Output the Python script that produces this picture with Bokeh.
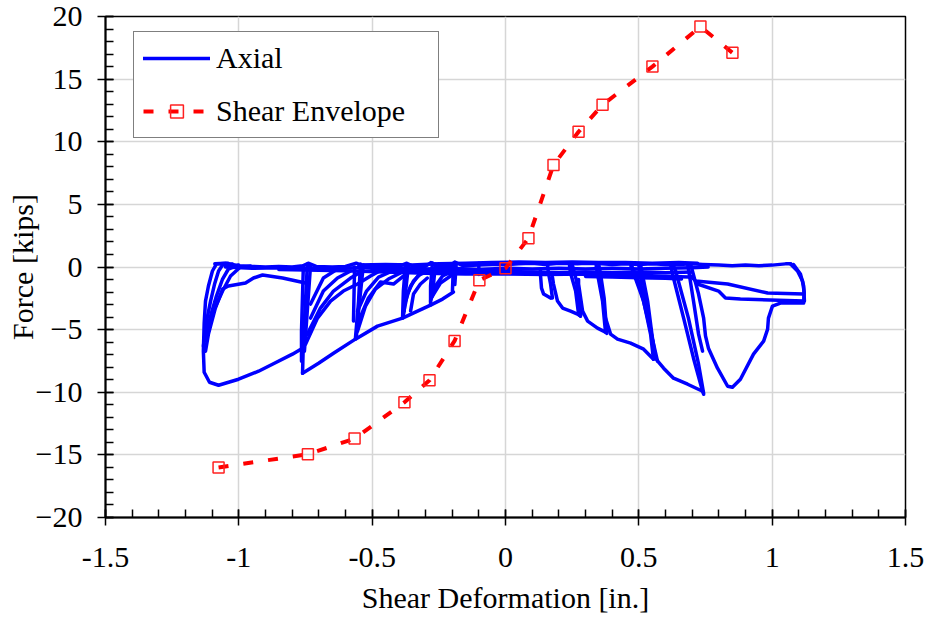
from bokeh.plotting import figure
from bokeh.models import (Range1d, SingleIntervalTicker, NumeralTickFormatter,
                          Legend, LegendItem)
from bokeh.embed import file_html
from bokeh.resources import INLINE

# ---- Shear envelope (peak force per displacement level) ----
env_x = [-1.076, -0.741, -0.566, -0.379, -0.285, -0.191, -0.098, 0.0,
         0.086, 0.18, 0.274, 0.364, 0.551, 0.731, 0.851]
env_y = [-16.0, -14.95, -13.7, -10.8, -9.05, -5.9, -1.05, -0.1,
         2.3, 8.15, 10.8, 12.95, 16.0, 19.2, 17.1]

# ---- Axial force record, traced as strokes of (deformation, force) ----
base_top = [(-1.09, 0.25), (-1.05, 0.3), (-1.0, 0.1), (-0.95, 0.05), (-0.9, 0.0),
            (-0.85, 0.05), (-0.8, 0.0), (-0.76, 0.1), (-0.74, 0.3), (-0.71, 0.05),
            (-0.65, 0.0), (-0.6, 0.05), (-0.56, 0.3), (-0.53, 0.05), (-0.45, 0.0),
            (-0.4, 0.05), (-0.37, 0.3), (-0.34, 0.0), (-0.3, 0.05), (-0.28, 0.35),
            (-0.25, 0.05), (-0.2, 0.1), (-0.19, 0.4), (-0.16, 0.1), (-0.1, 0.15),
            (-0.05, 0.2), (0.0, 0.2), (0.05, 0.25), (0.1, 0.3), (0.15, 0.2),
            (0.2, 0.3), (0.27, 0.25), (0.3, 0.3), (0.36, 0.25), (0.4, 0.2),
            (0.45, 0.25), (0.5, 0.2), (0.55, 0.25), (0.6, 0.2), (0.65, 0.2),
            (0.7, 0.25), (0.74, 0.2), (0.8, 0.15), (0.85, 0.1), (0.9, 0.15),
            (0.95, 0.1), (1.0, 0.15), (1.05, 0.25), (1.07, 0.25)]
base_mid = [(-1.05, 0.0), (-0.95, -0.1), (-0.85, -0.05), (-0.75, -0.1), (-0.65, -0.1),
            (-0.55, -0.05), (-0.45, -0.15), (-0.37, -0.1), (-0.3, -0.15), (-0.2, -0.1),
            (-0.1, -0.2), (0.0, -0.1), (0.1, -0.15), (0.2, -0.1), (0.3, -0.15),
            (0.4, -0.1), (0.5, -0.15), (0.6, -0.1), (0.7, -0.05), (0.76, 0.0)]
base_low = [(-0.5, -0.2), (-0.4, -0.3), (-0.3, -0.3), (-0.2, -0.35), (-0.1, -0.4),
            (0.0, -0.35), (0.1, -0.4), (0.2, -0.45), (0.3, -0.4), (0.4, -0.45),
            (0.5, -0.4), (0.6, -0.45), (0.7, -0.4)]
base_high = [(-0.55, 0.15), (-0.45, 0.2), (-0.35, 0.15), (-0.25, 0.25), (-0.15, 0.3),
             (-0.05, 0.35), (0.05, 0.4), (0.15, 0.35), (0.25, 0.4), (0.35, 0.35),
             (0.45, 0.35), (0.55, 0.3), (0.65, 0.35), (0.72, 0.3)]
base_under = [(-0.85, -0.2), (-0.7, -0.25), (-0.6, -0.3), (-0.45, -0.4), (-0.3, -0.5),
              (-0.15, -0.55), (0.0, -0.55), (0.15, -0.6), (0.3, -0.55), (0.45, -0.55)]
base_right1 = [(0.25, -0.55), (0.35, -0.6), (0.45, -0.65), (0.55, -0.7),
               (0.62, -0.75), (0.69, -0.8)]
base_right2 = [(0.3, -0.75), (0.4, -0.8), (0.5, -0.85), (0.6, -0.9), (0.66, -0.95)]

# negative excursions
outer_loop = [(-1.04, 0.3), (-1.084, 0.24), (-1.099, -0.32), (-1.114, -1.52),
              (-1.125, -2.72), (-1.13, -4.5), (-1.133, -6.72), (-1.13, -8.4),
              (-1.11, -9.2), (-1.076, -9.44), (-1.001, -8.96), (-0.926, -8.32),
              (-0.874, -7.76), (-0.799, -6.96), (-0.761, -6.48)]
fan_a1 = [(-1.133, -6.32), (-1.121, -4.32), (-1.106, -2.72), (-1.091, -1.36),
          (-1.076, -0.32), (-1.061, 0.16), (-1.024, 0.24)]
fan_a2 = [(-1.129, -5.92), (-1.106, -3.92), (-1.084, -2.32), (-1.061, -0.96),
          (-1.039, -0.16), (-1.001, 0.16)]
fan_a3 = [(-1.125, -5.52), (-1.095, -3.52), (-1.061, -1.92), (-1.031, -0.72),
          (-0.994, 0.0), (-0.956, 0.08)]
fan_a4 = [(-1.125, -6.72), (-1.114, -5.36), (-1.088, -3.28), (-1.061, -1.76),
          (-1.039, -1.52), (-0.975, -1.28), (-0.945, -0.88), (-0.911, -0.64),
          (-0.836, -0.88), (-0.75, -1.28)]

drop_075a = [(-0.743, 0.24), (-0.75, -2.72), (-0.758, -5.92), (-0.761, -8.48)]
drop_075b = [(-0.731, 0.16), (-0.746, -4.32), (-0.754, -6.72)]
drop_075c = [(-0.758, 0.08), (-0.765, -5.12), (-0.765, -7.52)]
lower_chain = [(-0.761, -8.48), (-0.701, -7.68), (-0.645, -6.88), (-0.563, -5.76),
               (-0.48, -4.72), (-0.386, -4.08), (-0.338, -3.6), (-0.281, -3.04),
               (-0.236, -2.56), (-0.195, -2.0)]
fan_b1 = [(-0.75, -6.16), (-0.705, -4.08), (-0.656, -2.72), (-0.608, -1.92),
          (-0.555, -1.36), (-0.506, -0.72), (-0.47, -0.3)]
fan_b2 = [(-0.743, -5.36), (-0.694, -3.28), (-0.645, -1.92), (-0.581, -0.88),
          (-0.536, -0.32)]
fan_b3 = [(-0.731, -4.08), (-0.683, -1.92), (-0.63, -0.88), (-0.581, -0.32)]
fan_b4 = [(-0.731, -2.96), (-0.683, -0.88), (-0.63, -0.16)]

drop_056a = [(-0.544, 0.24), (-0.551, -2.72), (-0.563, -5.76)]
drop_056b = [(-0.533, 0.16), (-0.551, -3.52), (-0.559, -5.52)]
drop_056c = [(-0.566, 0.0), (-0.57, -4.32)]
fan_c1 = [(-0.551, -4.32), (-0.514, -2.48), (-0.469, -1.2), (-0.42, -1.36),
          (-0.383, -0.72)]
fan_c2 = [(-0.555, -5.12), (-0.525, -3.12), (-0.488, -1.76), (-0.439, -0.96),
          (-0.394, -0.48)]
fan_c3 = [(-0.555, -3.52), (-0.521, -1.92), (-0.476, -0.8), (-0.424, -0.32)]

drop_037a = [(-0.375, 0.16), (-0.383, -1.92), (-0.386, -4.08)]
drop_037b = [(-0.364, 0.08), (-0.379, -2.72), (-0.383, -3.92)]
drop_037c = [(-0.37, 0.2), (-0.375, -1.5), (-0.38, -3.5)]
fan_d1 = [(-0.383, -3.76), (-0.368, -2.16), (-0.345, -1.12), (-0.319, -0.56)]
fan_d2 = [(-0.356, -3.52), (-0.345, -2.16), (-0.319, -1.36), (-0.293, -0.88)]
fan_d3 = [(-0.375, -2.72), (-0.356, -1.52), (-0.326, -0.64), (-0.289, -0.32)]

drop_028a = [(-0.274, 0.32), (-0.281, -1.52), (-0.281, -3.04)]
drop_028b = [(-0.263, 0.24), (-0.274, -2.32)]
fan_e1 = [(-0.281, -2.72), (-0.263, -1.52), (-0.236, -0.72), (-0.199, -0.32)]
fan_e2 = [(-0.274, -2.32), (-0.244, -1.28), (-0.206, -0.72)]
drop_019a = [(-0.195, 0.32), (-0.199, -1.92)]
drop_019b = [(-0.185, 0.2), (-0.19, -1.4)]
drop_010 = [(-0.1, 0.3), (-0.1, -0.6)]

# positive excursions
pos_010a = [(0.131, -0.2), (0.131, -0.56), (0.135, -1.68), (0.143, -2.16), (0.169, -2.48)]
pos_010b = [(0.158, 0.1), (0.161, -0.48), (0.169, -1.36), (0.176, -2.48)]
pos_020a = [(0.176, -0.8), (0.18, -1.36), (0.195, -2.72), (0.214, -3.28),
            (0.244, -3.52), (0.27, -3.76), (0.281, -3.92)]
pos_020b = [(0.24, 0.1), (0.244, -0.48), (0.263, -1.92), (0.274, -3.76), (0.281, -3.92)]
pos_020c = [(0.25, 0.2), (0.265, -1.0), (0.278, -2.8), (0.283, -3.8)]
pos_036a = [(0.274, -1.0), (0.274, -1.36), (0.289, -3.52), (0.308, -4.32),
            (0.345, -4.88), (0.375, -5.2)]
pos_036b = [(0.34, 0.1), (0.345, -0.56), (0.364, -2.72), (0.375, -5.2)]
pos_036c = [(0.35, 0.15), (0.356, -0.5), (0.37, -2.5), (0.38, -5.3)]
pos_055a = [(0.37, -3.5), (0.375, -4.08), (0.394, -5.36), (0.42, -5.76),
            (0.469, -6.08), (0.518, -6.56), (0.555, -7.36)]
pos_055b = [(0.47, 0.1), (0.488, -0.96), (0.518, -2.72), (0.544, -5.36), (0.555, -7.36)]
pos_055c = [(0.475, 0.0), (0.499, -1.12), (0.533, -4.08), (0.57, -7.52)]
pos_055d = [(0.5, 0.15), (0.513, -1.5), (0.533, -3.5), (0.56, -7.0)]
pos_055e = [(0.506, 0.24), (0.533, -2.72), (0.551, -5.68), (0.563, -7.28)]
pos_074_low = [(0.563, -7.28), (0.574, -7.6), (0.593, -8.08), (0.63, -8.88),
               (0.683, -9.36), (0.739, -9.92), (0.743, -10.16)]
pos_074a = [(0.62, 0.1), (0.63, -0.88), (0.668, -4.08), (0.705, -7.28), (0.739, -9.92)]
pos_074b = [(0.628, 0.2), (0.638, -0.32), (0.686, -4.08), (0.724, -7.76), (0.743, -10.08)]
pos_074c = [(0.683, 0.24), (0.705, -2.72), (0.724, -5.36), (0.739, -6.72)]
pos_110_loop = [(0.694, 0.24), (0.724, -2.16), (0.743, -4.08), (0.75, -5.5),
                (0.761, -6.48), (0.795, -8.08), (0.833, -9.52), (0.851, -9.6),
                (0.881, -8.96), (0.93, -6.96), (0.968, -5.92), (0.983, -4.96),
                (0.986, -4.08), (1.001, -3.12), (1.031, -2.88), (1.118, -2.88),
                (1.12, -2.0), (1.114, -1.12), (1.095, -0.32), (1.069, 0.24)]
pos_110_edge = [(1.08, 0.2), (1.106, -0.56), (1.118, -1.5), (1.121, -2.72)]
pos_110_ret1 = [(0.694, -0.72), (0.713, -1.12), (0.833, -1.36), (0.983, -2.08),
                (1.118, -2.16)]
pos_110_ret2 = [(0.72, -1.36), (0.799, -1.92), (0.825, -2.48), (0.881, -2.56),
                (1.118, -2.72)]

axial_strokes = [
    base_top, base_mid, base_low, base_high, base_under, base_right1, base_right2,
    outer_loop, fan_a1, fan_a2, fan_a3, fan_a4,
    drop_075a, drop_075b, drop_075c, lower_chain,
    fan_b1, fan_b2, fan_b3, fan_b4,
    drop_056a, drop_056b, drop_056c, fan_c1, fan_c2, fan_c3,
    drop_037a, drop_037b, drop_037c, fan_d1, fan_d2, fan_d3,
    drop_028a, drop_028b, fan_e1, fan_e2, drop_019a, drop_019b, drop_010,
    pos_010a, pos_010b, pos_020a, pos_020b, pos_020c,
    pos_036a, pos_036b, pos_036c,
    pos_055a, pos_055b, pos_055c, pos_055d, pos_055e,
    pos_074_low, pos_074a, pos_074b, pos_074c,
    pos_110_loop, pos_110_edge, pos_110_ret1, pos_110_ret2,
]
axial_xs = [[pt[0] for pt in s] for s in axial_strokes]
axial_ys = [[pt[1] for pt in s] for s in axial_strokes]

FONT = "Liberation Serif"
FS = "30px"

p = figure(width=926, height=622, x_range=Range1d(-1.5, 1.5), y_range=Range1d(-20, 20),
           output_backend="svg", toolbar_location=None,
           min_border_left=105, min_border_right=21, min_border_top=16,
           min_border_bottom=105, background_fill_color="white",
           border_fill_color="white")

p.xaxis.ticker = SingleIntervalTicker(interval=0.5, num_minor_ticks=5)
p.yaxis.ticker = SingleIntervalTicker(interval=5, num_minor_ticks=5)
p.xaxis.formatter = NumeralTickFormatter(format="0.[0]")

for ax in (p.xaxis[0], p.yaxis[0]):
    ax.axis_line_color = "black"
    ax.axis_line_width = 2
    ax.major_tick_line_color = "black"
    ax.major_tick_line_width = 1.5
    ax.minor_tick_line_color = "black"
    ax.minor_tick_line_width = 1.5
    ax.major_tick_in = 8
    ax.major_tick_out = 8
    ax.minor_tick_in = 8
    ax.minor_tick_out = 0
    ax.major_label_text_font = FONT
    ax.major_label_text_font_size = FS
    ax.major_label_text_color = "black"
    ax.axis_label_text_font = FONT
    ax.axis_label_text_font_size = FS
    ax.axis_label_text_font_style = "normal"
    ax.axis_label_text_color = "black"

p.xaxis.axis_label = "Shear Deformation [in.]"
p.yaxis.axis_label = "Force [kips]"
p.xaxis.major_label_standoff = 22
p.yaxis.major_label_standoff = 15
p.xaxis.axis_label_standoff = 11
p.yaxis.axis_label_standoff = -6

p.xgrid.grid_line_color = "#d6d6d6"
p.ygrid.grid_line_color = "#d6d6d6"
p.xgrid.grid_line_width = 1.5
p.ygrid.grid_line_width = 1.5
p.outline_line_color = "black"
p.outline_line_width = 1.5

axial = p.multi_line(axial_xs, axial_ys, line_color="#0000ff", line_width=3.5,
                     line_join="round", line_cap="round")
env_line = p.line(env_x, env_y, line_color="#ff0000", line_width=4, line_dash="10 15")
env_pts = p.scatter(env_x, env_y, marker="square", size=11, line_color="#ff2020",
                    line_width=1.5, fill_color=None)

legend = Legend(
    items=[LegendItem(label="Axial", renderers=[axial]),
           LegendItem(label="Shear Envelope", renderers=[env_line, env_pts])],
    location=(28, 379), margin=0, padding=9, spacing=19,
    glyph_width=67, glyph_height=32, label_height=32, label_width=213,
    label_standoff=6, label_text_font=FONT, label_text_font_size=FS,
    label_text_color="black", border_line_color="black", border_line_width=1,
    background_fill_color="white", background_fill_alpha=1.0,
)
p.add_layout(legend)

open("out.html", "w").write(file_html(p, INLINE))
